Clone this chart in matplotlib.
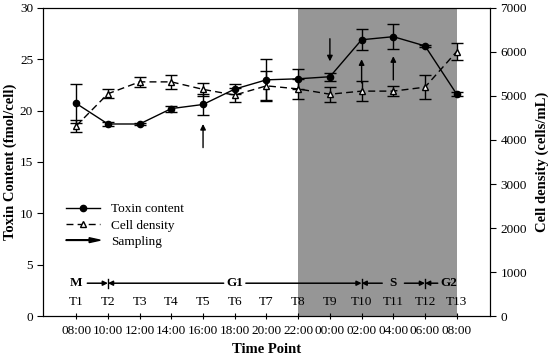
import numpy as np
import matplotlib
matplotlib.use('Agg')
from matplotlib import pyplot as plt
import matplotlib.patches as mpatches
from matplotlib.legend_handler import HandlerPatch
from matplotlib.lines import Line2D

plt.rcParams['font.family'] = ['Liberation Serif', 'DejaVu Serif']

# Data
klokke = ['08:00', '10:00', '12:00', '14:00', '16:00', '18:00', '20:00',
          '22:00', '00:00', '02:00', '04:00', '06:00', '08:00']
tpunkt = ['T%d' % (i + 1) for i in range(13)]
toksin = [20.7, 18.7, 18.7, 20.2, 20.6, 22.1, 23.0, 23.1, 23.3, 26.9, 27.2, 26.3, 21.6]
toksin_feil = [1.9, 0.2, 0.1, 0.3, 1.0, 0.5, 2.0, 1.0, 0.4, 1.0, 1.2, 0.1, 0.2]
celler = [4320, 5050, 5320, 5320, 5150, 5020, 5230, 5160, 5040, 5110, 5110, 5200, 6010]
celler_feil = [130, 100, 120, 160, 140, 150, 340, 220, 170, 220, 110, 280, 200]

# sampling-piler: indekser
pil_opp = [4, 9, 10]
pil_ned = [8]

# fasene: (navn, start, slutt)
faser = [('M', 0, 1), ('G1', 1, 9), ('S', 9, 11), ('G2', 11, 12)]

x = np.arange(len(klokke))

fig = plt.figure(figsize=(5.5, 3.6), dpi=100)
ax = fig.add_axes([0.078, 0.122, 0.813, 0.856])
ax2 = ax.twinx()

ax.axvspan(7, 12, color='#969696', lw=0, zorder=0)

ax.errorbar(x, toksin, yerr=toksin_feil, color='k', lw=1, marker='o', ms=4.5,
            capsize=4, elinewidth=1, capthick=1, zorder=3)
ax2.errorbar(x, celler, yerr=celler_feil, color='k', lw=1, ls=(0, (5, 3)),
             marker='^', ms=4.5, mfc='white', mec='k', capsize=4,
             elinewidth=1, capthick=1, zorder=3)

# sampling-piler
for i in pil_opp:
    ax.annotate('', xy=(i, toksin[i] - 1.9), xytext=(i, toksin[i] - 4.2),
                arrowprops=dict(arrowstyle='-|>', color='k', lw=1,
                                mutation_scale=8, shrinkA=0, shrinkB=0))
for i in pil_ned:
    ax.annotate('', xy=(i, toksin[i] + 1.5), xytext=(i, toksin[i] + 3.7),
                arrowprops=dict(arrowstyle='-|>', color='k', lw=1,
                                mutation_scale=8, shrinkA=0, shrinkB=0))

# fase-rad
yf = 3.2
pil = dict(arrowstyle='-|>', color='k', lw=1.1, mutation_scale=7,
           shrinkA=0, shrinkB=0)
for navn, a, b in faser:
    if navn == 'M':
        ax.text(a, yf, navn, ha='center', va='center', fontsize=9.5,
                fontweight='bold')
        ax.annotate('', xy=(b, yf), xytext=(a + 0.35, yf), arrowprops=pil)
    elif navn == 'G2':
        xm = a + 0.75
        ax.text(xm, yf, navn, ha='center', va='center', fontsize=9.5,
                fontweight='bold')
        ax.annotate('', xy=(a, yf), xytext=(xm - 0.35, yf), arrowprops=pil)
    else:
        xm = (a + b) / 2
        ax.text(xm, yf, navn, ha='center', va='center', fontsize=9.5,
                fontweight='bold')
        ax.annotate('', xy=(a, yf), xytext=(xm - 0.35, yf), arrowprops=pil)
        ax.annotate('', xy=(b, yf), xytext=(xm + 0.35, yf), arrowprops=pil)
for a in [1, 9, 11]:
    ax.plot([a, a], [yf - 0.45, yf + 0.45], color='k', lw=1)

for i, t in enumerate(tpunkt):
    ax.text(i, 1.35, t, ha='center', va='center', fontsize=9.5)

ax.set_xlim(-1.05, 13.05)
ax.set_ylim(0, 30)
ax.set_yticks(np.arange(0, 31, 5))
ax2.set_ylim(0, 7000)
ax2.set_yticks(np.arange(0, 7001, 1000))
ax.set_xticks(x)
ax.set_xticklabels(klokke)
ax.tick_params(axis='x', direction='inout', length=5, labelsize=9.5, pad=4)
ax.tick_params(axis='y', direction='out', length=4, labelsize=9.5, pad=3)
ax2.tick_params(axis='y', direction='out', length=4, labelsize=9.5)

ax.set_xlabel('Time Point', fontsize=10.5, fontweight='bold', labelpad=4)
ax.set_ylabel('Toxin Content (fmol/cell)', fontsize=10.5, fontweight='bold',
              labelpad=2)
ax2.set_ylabel('Cell density (cells/mL)', fontsize=10.5, fontweight='bold',
               labelpad=6)


def lag_pil(legend, orig_handle, xdescent, ydescent, width, height, fontsize):
    return mpatches.FancyArrow(0, 0.5 * height, width, 0, width=0.4,
                               length_includes_head=True, head_width=3.5,
                               head_length=8, color='k')


h1 = Line2D([], [], color='k', lw=1, marker='o', ms=4.5)
h2 = Line2D([], [], color='k', lw=1, ls=(0, (5, 3)), marker='^', ms=4.5,
            mfc='white')
h3 = mpatches.FancyArrow(0, 0, 1, 0, color='k')
ax.legend([h1, h2, h3], ['Toxin content', 'Cell density', 'Sampling'],
          handler_map={mpatches.FancyArrow: HandlerPatch(patch_func=lag_pil)},
          loc='upper left', bbox_to_anchor=(0.025, 0.405), frameon=False,
          fontsize=9.5, handlelength=2.6, labelspacing=0.3, handletextpad=0.8)

fig.savefig('out.png', dpi=100)
